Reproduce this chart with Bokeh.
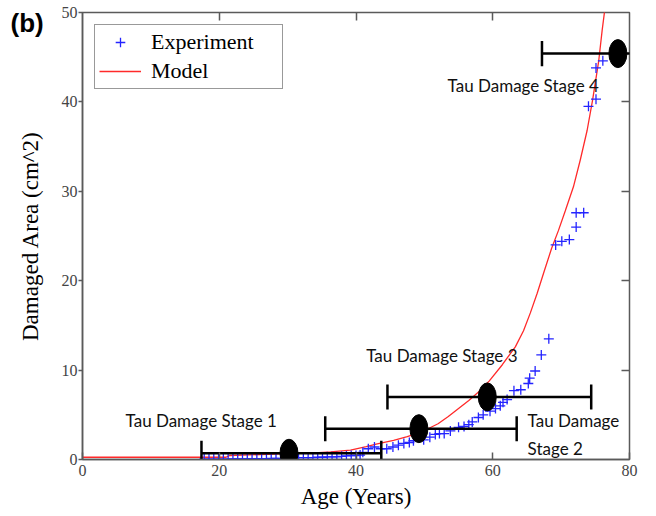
from bokeh.plotting import figure
from bokeh.models import (LinearAxis, FixedTicker, Label, Legend, LegendItem,
                          CustomJSTickFormatter)
from bokeh.embed import file_html
from bokeh.resources import INLINE

# ---------------- data ----------------
exp_age = [17.8, 18.5, 19.2, 19.9, 20.6, 21.3, 22.0, 22.7, 23.4, 24.1, 24.8, 25.5,
           26.2, 26.9, 27.6, 28.3, 29.0, 31.6, 32.3, 33.0, 33.7, 34.4, 35.1, 35.8,
           36.5, 37.2, 37.9, 38.6, 39.3, 40.0, 40.6, 41.0, 41.8, 42.7, 43.6, 44.5,
           45.4, 46.2, 47.0, 47.8, 48.4, 49.9, 50.8, 51.6, 52.2, 52.9, 53.8, 55.0,
           55.8, 56.5, 57.0, 57.9, 58.6, 59.6, 60.4, 61.1, 61.5, 62.1, 63.1, 64.1,
           65.2, 65.4, 66.2, 67.1, 68.2, 69.2, 70.1, 71.2, 72.2, 72.2, 73.3, 74.0,
           75.1, 75.1, 76.1]
exp_area = [0.05, 0.05, 0.05, 0.05, 0.05, 0.05, 0.08, 0.08, 0.08, 0.08, 0.1, 0.1,
            0.1, 0.1, 0.12, 0.12, 0.12, 0.2, 0.2, 0.2, 0.22, 0.25, 0.25, 0.3,
            0.3, 0.3, 0.35, 0.4, 0.45, 0.45, 0.5, 0.8, 1.2, 1.4, 1.2, 1.2,
            1.4, 1.6, 1.8, 1.9, 2.1, 2.2, 2.5, 2.8, 2.9, 2.9, 3.2, 3.6,
            3.7, 3.9, 4.2, 4.7, 5.0, 5.4, 5.7, 6.0, 6.4, 6.7, 7.7, 7.8,
            8.5, 9.1, 9.9, 11.7, 13.5, 24.0, 24.4, 24.6, 26.0, 27.6, 27.6, 39.5,
            40.3, 43.8, 44.6]

model_age = [0, 21.0, 21.5, 26, 30, 34, 36.3, 39.2, 41.5, 43.1, 45.5, 47.5, 49.5,
             52.0, 53.5, 55.0, 56.5, 58.0, 59.5, 61.4, 63.3, 64.5, 65.5, 66.5,
             67.5, 68.6, 69.6, 70.6, 71.8, 72.8, 73.8, 74.6, 75.5, 76.0, 76.5]
model_area = [0.25, 0.25, 0.45, 0.55, 0.65, 0.75, 0.85, 1.05, 1.45, 1.75, 2.15, 2.55, 3.05,
              4.0, 4.8, 5.7, 6.6, 7.6, 8.8, 10.6, 12.6, 14.4, 16.4, 18.6,
              21.0, 23.6, 25.6, 27.8, 30.5, 33.5, 36.8, 40.2, 44.6, 48.0, 51.0]

stage_names = ["Tau Damage Stage 1", "Tau Damage\nStage 2", "Tau Damage Stage 3", "Tau Damage Stage 4"]
stage_age = [30.2, 49.2, 59.2, 78.3]
stage_area = [0.7, 3.45, 7.0, 45.4]
stage_low = [17.4, 35.5, 44.6, 67.2]
stage_high = [43.7, 63.5, 74.4, 89.4]

x_ticks = [0, 20, 40, 60, 80]
y_ticks = [0, 10, 20, 30, 40, 50]

# ---------------- figure ----------------
SERIF = "Liberation Serif"
SANS = "Lato"
FRAME = "#5a5a5a"

p = figure(width=656, height=516, x_range=(0, 80), y_range=(0, 50),
           output_backend="svg", toolbar_location=None,
           min_border_left=82, min_border_right=27, min_border_top=12, min_border_bottom=57)
p.grid.visible = False
p.outline_line_color = FRAME
p.outline_line_width = 1.5
p.background_fill_color = "white"
p.border_fill_color = "white"

# panel letter as the plot title, pulled into the corner
p.title.text = "(b)"
p.title.text_font = "Liberation Sans"
p.title.text_font_style = "bold"
p.title.text_font_size = "26px"
p.title.text_color = "black"
p.title.align = "left"
p.title.vertical_align = "bottom"
p.title.offset = -72
try:
    p.title.standoff = -50
except Exception:
    p.title.standoff = 0

xa = p.xaxis[0]
xa.ticker = FixedTicker(ticks=x_ticks)
xa.axis_label = "Age (Years)"
xa.axis_label_text_font = SERIF
xa.axis_label_text_font_style = "normal"
xa.axis_label_text_font_size = "23px"
xa.axis_label_text_color = "black"
xa.axis_label_standoff = 5
xa.major_label_text_font = SERIF
xa.major_label_text_font_size = "16px"
xa.major_label_text_color = "#444444"
xa.major_label_standoff = 5
xa.major_tick_in = 7
xa.major_tick_out = 0
xa.minor_tick_line_color = None
xa.axis_line_color = FRAME
xa.axis_line_width = 1.5
xa.major_tick_line_color = FRAME
xa.major_tick_line_width = 1.5

ya = p.yaxis[0]
ya.ticker = FixedTicker(ticks=y_ticks)
ya.axis_label = "Damaged Area (cm^2)"
ya.axis_label_text_font = SERIF
ya.axis_label_text_font_style = "normal"
ya.axis_label_text_font_size = "23px"
ya.axis_label_text_color = "black"
ya.axis_label_standoff = 16
ya.major_label_text_font = SERIF
ya.major_label_text_font_size = "16px"
ya.major_label_text_color = "#444444"
ya.major_label_standoff = 1
ya.major_tick_in = 0
ya.major_tick_out = 4
ya.minor_tick_line_color = None
ya.axis_line_color = FRAME
ya.axis_line_width = 1.5
ya.major_tick_line_color = FRAME
ya.major_tick_line_width = 1.5

top = LinearAxis(ticker=FixedTicker(ticks=[20, 40, 60]), major_tick_in=8, major_tick_out=0,
                 formatter=CustomJSTickFormatter(code="return ''"), major_label_standoff=0,
                 axis_line_color=None, minor_tick_line_color=None,
                 major_tick_line_color=FRAME, major_tick_line_width=1.5)
p.add_layout(top, "above")
right = LinearAxis(ticker=FixedTicker(ticks=[10, 20, 30, 40]), major_tick_in=8, major_tick_out=0,
                   formatter=CustomJSTickFormatter(code="return ''"), major_label_standoff=0,
                   axis_line_color=None, minor_tick_line_color=None,
                   major_tick_line_color=FRAME, major_tick_line_width=1.5)
p.add_layout(right, "right")

# ---------------- data glyphs ----------------
model_r = p.line(model_age, model_area, line_color="#ff2a2a", line_width=1.3)
exp_r = p.scatter(exp_age, exp_area, marker="cross", size=10,
                  line_color="#2424ff", line_width=1.3)

# error bars
cap = 1.4
p.segment(x0=stage_low, y0=stage_area, x1=stage_high, y1=stage_area,
          line_color="black", line_width=2.5)
p.segment(x0=stage_low, y0=[v - cap for v in stage_area],
          x1=stage_low, y1=[v + cap for v in stage_area],
          line_color="black", line_width=2.5)
p.segment(x0=stage_high, y0=[v - cap for v in stage_area],
          x1=stage_high, y1=[v + cap for v in stage_area],
          line_color="black", line_width=2.5)
p.ellipse(x=stage_age, y=stage_area, width=18, height=28,
          width_units="screen", height_units="screen",
          fill_color="black", line_color="black")

# stage labels
label_pos = [(6.3, 4.4), (65.1, 2.8), (41.5, 11.6), (53.4, 41.8)]
for name, (lx, ly) in zip(stage_names, label_pos):
    p.add_layout(Label(x=lx, y=ly, text=name, text_font=SANS, text_font_size="17px",
                       text_color="#111111", text_align="left", text_baseline="middle",
                       text_line_height=1.35))

# legend
legend = Legend(items=[LegendItem(label="Experiment", renderers=[exp_r]),
                       LegendItem(label="Model", renderers=[model_r])],
                location="top_left", margin=12, padding=4, spacing=3,
                glyph_width=42, glyph_height=24, label_standoff=10, label_width=127,
                label_text_font=SERIF, label_text_font_size="22px",
                label_text_color="black",
                border_line_color="#333333", border_line_width=1.5,
                background_fill_alpha=1.0)
p.add_layout(legend)

open("out.html", "w").write(file_html(p, INLINE))
